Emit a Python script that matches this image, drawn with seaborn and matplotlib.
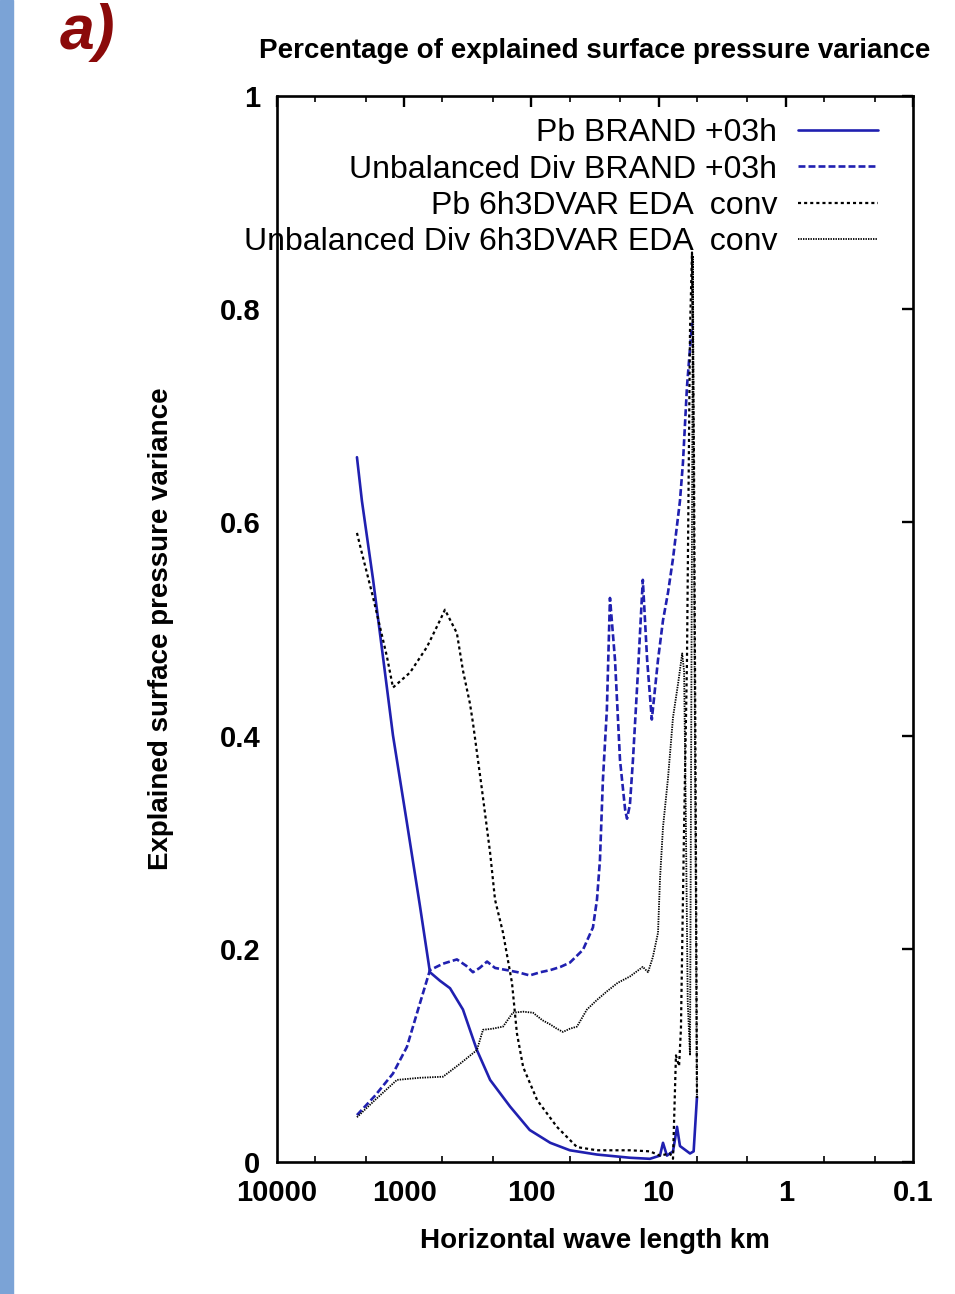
import matplotlib
matplotlib.use('Agg')
import matplotlib.pyplot as plt
import seaborn as sns
import numpy as np
from matplotlib.patches import Rectangle
from matplotlib.ticker import LogLocator, NullFormatter

# horizontal wave length (km) and explained fraction of surface pressure variance
pb_brand_km = [2350, 2148, 1759, 1468, 1224, 951, 751, 627, 523, 436, 345, 268, 211, 147, 103,
               71, 49.8, 30.5, 16.8, 11.7, 9.75, 9.23, 8.6, 7.7, 7.16, 6.79, 5.66, 5.3, 4.99]
pb_brand = [0.661, 0.62, 0.547, 0.474, 0.40, 0.318, 0.24, 0.178, 0.170, 0.163, 0.143, 0.105, 0.077,
            0.052, 0.030, 0.018, 0.011, 0.007, 0.004, 0.003, 0.006, 0.018, 0.006, 0.01, 0.033,
            0.015, 0.008, 0.01, 0.061]

div_brand_km = [2350, 1700, 1224, 951, 751, 627, 495, 385, 325, 288, 255, 223, 193, 156, 128, 103,
                85, 71, 59, 49.8, 39.3, 32.8, 30.5, 28.9, 27.4, 25.5, 24.1, 22.0, 20.1, 18.3, 17.7,
                16.8, 15.9, 14.5, 13.3, 12.3, 11.3, 10.1, 9.23, 8.43, 7.7, 6.79, 6.43, 5.98, 5.46]
div_brand = [0.044, 0.062, 0.083, 0.108, 0.149, 0.180, 0.186, 0.190, 0.184, 0.178, 0.182, 0.188,
             0.182, 0.180, 0.178, 0.175, 0.178, 0.180, 0.183, 0.187, 0.199, 0.22, 0.246, 0.283,
             0.358, 0.424, 0.529, 0.471, 0.377, 0.33, 0.322, 0.335, 0.377, 0.461, 0.546, 0.471,
             0.415, 0.471, 0.508, 0.534, 0.566, 0.62, 0.656, 0.727, 0.787]

pb_eda_km = [2350, 2148, 1759, 1366, 1224, 900, 662, 523, 478, 385, 345, 304, 288, 245, 211, 193,
             167, 142, 130, 116, 90, 63, 43.8, 30.5, 16.8, 11.7, 9.75, 8.13, 7.7, 7.3, 6.9, 6.67,
             6.33, 5.98, 5.66, 5.46, 5.27, 5.09, 4.99]
pb_eda = [0.59, 0.571, 0.53, 0.474, 0.445, 0.459, 0.483, 0.508, 0.518, 0.496, 0.461, 0.43, 0.412,
          0.35, 0.29, 0.246, 0.215, 0.168, 0.121, 0.089, 0.058, 0.033, 0.014, 0.011, 0.011, 0.010,
          0.006, 0.008, 0.003, 0.10, 0.09, 0.125, 0.30, 0.47, 0.78, 0.853, 0.66, 0.30, 0.06]

div_eda_km = [2350, 1700, 1140, 751, 495, 365, 268, 240, 202, 167, 140, 116, 97, 82, 71, 63, 56.5,
              49.8, 43.8, 36.6, 30.5, 25.5, 21, 16.8, 13.3, 12.1, 11.1, 10.1, 9.75, 9.23, 8.43,
              7.7, 7.0, 6.52, 6.3, 6.1, 5.9, 5.66, 5.46, 5.37, 5.18, 4.99]
div_eda = [0.042, 0.058, 0.077, 0.079, 0.080, 0.092, 0.105, 0.124, 0.125, 0.127, 0.14, 0.141, 0.14,
           0.133, 0.129, 0.125, 0.122, 0.125, 0.127, 0.143, 0.152, 0.16, 0.168, 0.174, 0.183,
           0.178, 0.192, 0.215, 0.265, 0.314, 0.36, 0.417, 0.45, 0.477, 0.46, 0.32, 0.15, 0.10,
           0.6, 0.85, 0.40, 0.06]

series_labels = ['Pb BRAND +03h', 'Unbalanced Div BRAND +03h',
                 'Pb 6h3DVAR EDA  conv', 'Unbalanced Div 6h3DVAR EDA  conv']
xtick_vals = [10000, 1000, 100, 10, 1, 0.1]
xtick_labels = ['10000', '1000', '100', '10', '1', '0.1']
ytick_vals = [0, 0.2, 0.4, 0.6, 0.8, 1]
ytick_labels = ['0', '0.2', '0.4', '0.6', '0.8', '1']

sns.set_theme(style='white')
plt.rcParams['lines.scale_dashes'] = False
gp_font = ['Liberation Sans Narrow', 'Liberation Sans', 'DejaVu Sans']
plt.rcParams['font.family'] = gp_font

fig = plt.figure(figsize=(9.55, 12.94), dpi=100)
ax = fig.add_axes([0.290, 0.102, 0.666, 0.824])

blue = '#2020b0'
sns.lineplot(x=pb_brand_km, y=pb_brand, ax=ax, color=blue, lw=1.9, sort=False,
             estimator=None, label=series_labels[0])
sns.lineplot(x=div_brand_km, y=div_brand, ax=ax, color=blue, lw=1.9, sort=False,
             estimator=None, label=series_labels[1], linestyle=(0, (5, 2.2)))
sns.lineplot(x=pb_eda_km, y=pb_eda, ax=ax, color='black', lw=1.6, sort=False,
             estimator=None, label=series_labels[2], linestyle=(0, (2.2, 2.2)))
sns.lineplot(x=div_eda_km, y=div_eda, ax=ax, color='black', lw=1.3, sort=False,
             estimator=None, label=series_labels[3], linestyle=(0, (1, 0.8)))

ax.set_xscale('log')
ax.set_xlim(10000, 0.1)
ax.set_ylim(0, 1)
ax.set_xticks(xtick_vals)
ax.set_xticklabels(xtick_labels)
ax.xaxis.set_minor_locator(LogLocator(base=10, subs=(2, 5)))
ax.xaxis.set_minor_formatter(NullFormatter())
ax.set_yticks(ytick_vals)
ax.set_yticklabels(ytick_labels)

for s in ax.spines.values():
    s.set_linewidth(1.9)
    s.set_color('black')
ax.tick_params(which='major', direction='in', length=8, width=1.7, top=True, right=True,
               labelsize=21, pad=12, colors='black')
ax.tick_params(which='minor', direction='in', length=4, width=1.4, top=True, bottom=True)
for t in ax.get_xticklabels() + ax.get_yticklabels():
    t.set_fontweight('bold')

ax.set_title('Percentage of explained surface pressure variance', fontsize=20,
             fontweight='bold', pad=27, color='black')
ax.set_xlabel('Horizontal wave length km', fontsize=20, fontweight='bold', labelpad=15,
              color='black')
ax.set_ylabel('Explained surface pressure variance', fontsize=20, fontweight='bold',
              labelpad=33, color='black')

leg = ax.legend(loc='upper right', bbox_to_anchor=(0.945, 0.979), frameon=False,
                markerfirst=False, handlelength=2.5, handletextpad=0.65,
                labelspacing=0.2, borderpad=0, borderaxespad=0,
                prop={'family': ['Liberation Sans', 'DejaVu Sans'], 'size': 23})
for t in leg.get_texts():
    t.set_color('black')

fig.patches.append(Rectangle((0, 0), 13 / 955, 1, transform=fig.transFigure,
                             color='#7ba3d6', zorder=0))
fig.text(60 / 955, 1 - 49 / 1294, 'a)', color='#8b0a0a', fontsize=45, fontweight='bold',
         fontstyle='italic', va='baseline', ha='left',
         family=['Liberation Sans', 'DejaVu Sans'])

fig.savefig('out.png', dpi=100, facecolor='white')
